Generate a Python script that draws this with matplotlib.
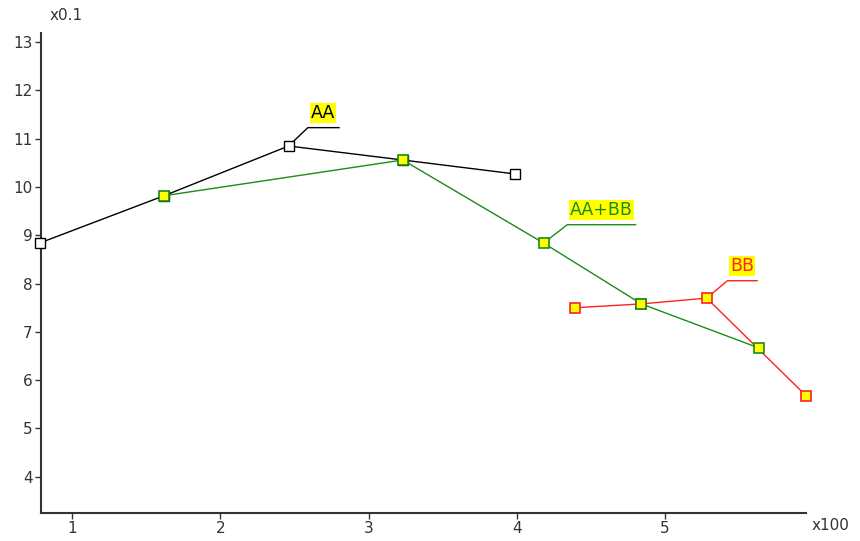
import matplotlib.pyplot as plt

# series (x in units of 100, y in units of 0.1)
aa_x = [0.78, 1.62, 2.46, 3.23, 3.99]
aa_y = [8.84, 9.82, 10.85, 10.56, 10.27]

ab_x = [1.62, 3.23, 4.18, 4.84, 5.63]
ab_y = [9.82, 10.56, 8.84, 7.58, 6.67]

bb_x = [4.39, 4.84, 5.28, 5.95]
bb_y = [7.50, 7.58, 7.70, 5.68]

x_ticks = [1, 2, 3, 4, 5]
y_ticks = [4, 5, 6, 7, 8, 9, 10, 11, 12, 13]

fig = plt.figure(figsize=(8.6, 5.41), dpi=100)
ax = fig.add_axes([41 / 860, 28 / 541, 765 / 860, 480 / 541])

ax.plot(aa_x, aa_y, color='black', lw=1, marker='s', ms=6.5,
        mfc='white', mec='black', mew=1, clip_on=False, zorder=3)
ax.plot(ab_x, ab_y, color='#1a8c1a', lw=1, marker='s', ms=6.5,
        mfc='#ffff00', mec='#1a8c1a', mew=1.2, clip_on=False, zorder=4)
ax.plot(bb_x, bb_y, color='#ff2020', lw=1, marker='s', ms=6.5,
        mfc='#ffff00', mec='#ff2020', mew=1.2, clip_on=False, zorder=3)

ax.set_xlim(0.79, 5.95)
ax.set_ylim(3.25, 13.19)
ax.set_xticks(x_ticks)
ax.set_yticks(y_ticks)
ax.tick_params(direction='out', length=4, width=1, labelsize=11, pad=2,
               colors='#333333')
for s in ['top', 'right']:
    ax.spines[s].set_visible(False)
for s in ['left', 'bottom']:
    ax.spines[s].set_linewidth(1.5)
    ax.spines[s].set_color('#333333')


def label(pt, elbow, end, text, color):
    # leader line from the point to an elbow, then a horizontal underline
    ax.plot([pt[0], elbow[0], end[0]], [pt[1], elbow[1], elbow[1]],
            color=color, lw=1, zorder=2, clip_on=False)
    ax.text((elbow[0] + end[0]) / 2, elbow[1] + 0.12, text, color=color,
            fontsize=12.5, ha='center', va='bottom',
            bbox=dict(boxstyle='square,pad=0.05', fc='#ffff00', ec='none'))


label((aa_x[2], aa_y[2]), (2.59, 11.23), (2.80, 11.23), 'AA', 'black')
label((ab_x[2], ab_y[2]), (4.34, 9.22), (4.80, 9.22), 'AA+BB', '#1a8c1a')
label((bb_x[2], bb_y[2]), (5.42, 8.06), (5.62, 8.06), 'BB', '#ff2020')

fig.text(66 / 860, 1 - 16 / 541, 'x0.1', fontsize=11, color='#333333',
         ha='center', va='center')
fig.text(812 / 860, 1 - 525 / 541, 'x100', fontsize=11, color='#333333',
         ha='left', va='center')

fig.savefig('out.png', dpi=100)
